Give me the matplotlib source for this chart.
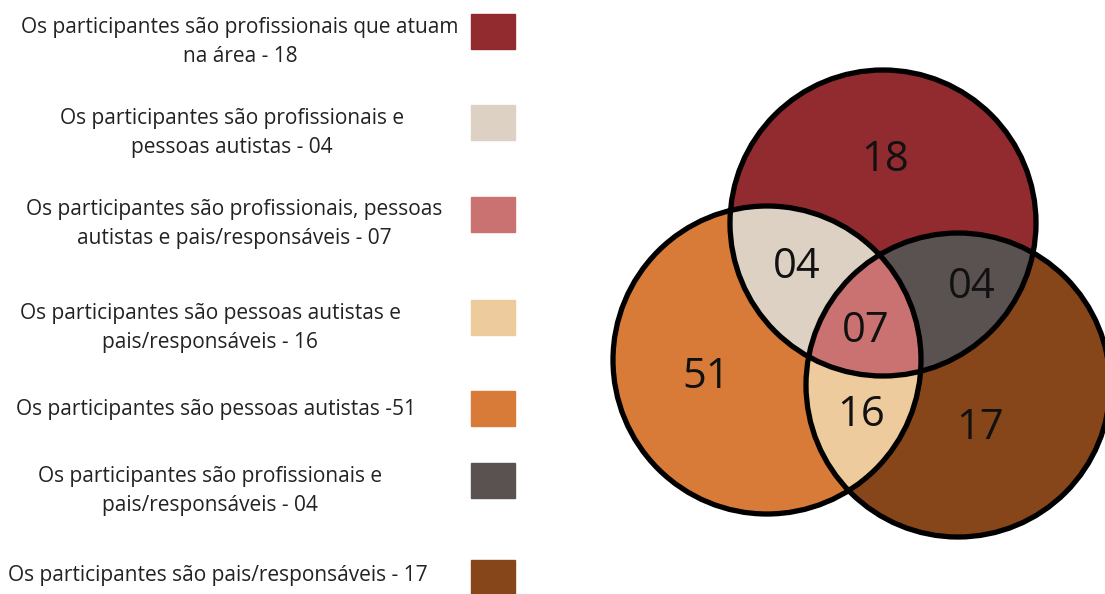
import numpy as np
import matplotlib.pyplot as plt
from matplotlib.patches import Circle, Rectangle

plt.rcParams['font.family'] = ['Open Sans', 'DejaVu Sans']

# regioes do diagrama (P = profissionais, A = autistas, R = pais/responsaveis)
regioes = ['P', 'PA', 'PAR', 'AR', 'A', 'PR', 'R']
valores = ['18', '04', '07', '16', '51', '04', '17']
cores = ['#922B2F', '#DCD1C3', '#CA7171', '#EECB9C', '#D97B38', '#5A5151', '#874619']

legenda = [
    'Os participantes são profissionais que atuam\nna área - 18',
    'Os participantes são profissionais e\npessoas autistas - 04',
    'Os participantes são profissionais, pessoas\nautistas e pais/responsáveis - 07',
    'Os participantes são pessoas autistas e\npais/responsáveis - 16',
    'Os participantes são pessoas autistas -51',
    'Os participantes são profissionais e\npais/responsáveis - 04',
    'Os participantes são pais/responsáveis - 17',
]

# geometria em pixels
circulos = {'P': (883, 223, 153), 'A': (767, 360, 154), 'R': (958, 385, 152)}
pos_rotulos = [(885, 160), (797, 267), (866, 331), (861, 415), (706, 377), (972, 287), (980, 428)]
leg_x = [240, 232, 234, 210, 216, 210, 218]
leg_y = [42, 133, 224, 328, 410, 491, 575]
caixa_y = [14, 105, 197, 300, 391, 463, 560]

W, H = 1105, 594
fig = plt.figure(figsize=(W / 100, H / 100), dpi=100)
ax = fig.add_axes([0, 0, 1, 1])
ax.set_xlim(0, W)
ax.set_ylim(H, 0)
ax.axis('off')

# preenchimento das regioes
yy, xx = np.mgrid[0:H, 0:W] + 0.5
dentro = {k: (xx - c[0]) ** 2 + (yy - c[1]) ** 2 <= c[2] ** 2 for k, c in circulos.items()}
img = np.ones((H, W, 4))
img[..., 3] = 0
for reg, cor in zip(regioes, cores):
    m = np.ones((H, W), bool)
    for k in 'PAR':
        m &= dentro[k] if k in reg else ~dentro[k]
    img[m] = plt.matplotlib.colors.to_rgba(cor)
ax.imshow(img, extent=(0, W, H, 0), interpolation='nearest', zorder=1)

for k in ['A', 'R', 'P']:
    cx, cy, r = circulos[k]
    ax.add_patch(Circle((cx, cy), r, fill=False, ec='black', lw=3.8, zorder=3))

for (x, y), v in zip(pos_rotulos, valores):
    ax.text(x, y, v, fontsize=30, ha='center', va='center', color='#111111', zorder=4)

# legenda
for txt, x, y, by, cor in zip(legenda, leg_x, leg_y, caixa_y, cores):
    ax.text(x, y, txt, fontsize=15, ha='center', va='center', color='#222222',
            linespacing=1.5, zorder=4)
    ax.add_patch(Rectangle((471, by), 44, 35, color=cor, zorder=2))

fig.savefig('out.png', dpi=100)
